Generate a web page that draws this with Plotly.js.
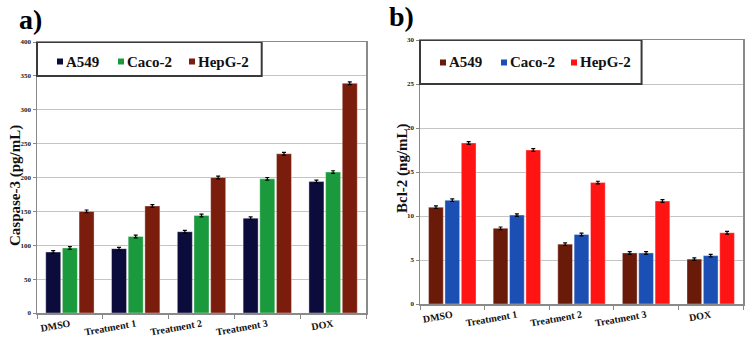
<!DOCTYPE html>
<html>
<head>
<meta charset="utf-8">
<script src="https://cdn.plot.ly/plotly-3.0.1.min.js"></script>
<style>
  html, body { margin: 0; padding: 0; background: #fff; }
  #chart { width: 749px; height: 343px; }
</style>
</head>
<body>
<div id="chart"></div>
<script>
// Shared categories
const groups = ["DMSO", "Treatment 1", "Treatment 2", "Treatment 3", "DOX"];
const cellLines = ["A549", "Caco-2", "HepG-2"];

// Panel a) Caspase-3 (pg/mL)
const caspA549  = [90, 95, 120, 140, 194];
const caspCaco2 = [96, 113, 144, 198, 208];
const caspHepG2 = [150, 158, 200, 235, 339];
const caspErr   = [2, 2, 2, 2, 2];

// Panel b) Bcl-2 (ng/mL)
const bclA549  = [11.0, 8.6, 6.8, 5.8, 5.1];
const bclCaco2 = [11.8, 10.1, 7.9, 5.8, 5.5];
const bclHepG2 = [18.3, 17.5, 13.8, 11.7, 8.1];
const bclErr   = [0.15, 0.15, 0.15, 0.15, 0.15];

const colorsA = ["#0c0c3c", "#1a9a3c", "#7b1d0c"];
const colorsB = ["#6a1a08", "#1c4fb4", "#ff1414"];

const W = 749, H = 343;
const px = v => v / W;
const py = v => 1 - v / H;
const SERIF = "Liberation Serif, Times New Roman, serif";

function barTrace(name, vals, errs, color, xa, ya) {
  return {
    type: "bar", name: name, x: groups, y: vals,
    xaxis: xa, yaxis: ya, showlegend: false,
    marker: { color: color, line: { color: "rgba(255,255,255,0.6)", width: 0.6 } },
    error_y: { type: "data", array: errs, visible: true, color: "#000", thickness: 1.2, width: 2 }
  };
}

const traces = [
  barTrace(cellLines[0], caspA549,  caspErr, colorsA[0], "x",  "y"),
  barTrace(cellLines[1], caspCaco2, caspErr, colorsA[1], "x",  "y"),
  barTrace(cellLines[2], caspHepG2, caspErr, colorsA[2], "x",  "y"),
  barTrace(cellLines[0], bclA549,  bclErr, colorsB[0], "x2", "y2"),
  barTrace(cellLines[1], bclCaco2, bclErr, colorsB[1], "x2", "y2"),
  barTrace(cellLines[2], bclHepG2, bclErr, colorsB[2], "x2", "y2")
];

function xAxis(domain, anchor) {
  return {
    domain: domain, anchor: anchor, type: "category",
    tickson: "boundaries", ticks: "outside", ticklen: 4, tickcolor: "#888",
    tickangle: -10,
    tickfont: { family: SERIF, size: 10, weight: "bold", color: "#111" },
    showline: true, linecolor: "#8a8a8a", linewidth: 1.5, mirror: true,
    showgrid: false, fixedrange: true
  };
}
function yAxis(domain, anchor, range, dtick) {
  return {
    domain: domain, anchor: anchor, range: range, dtick: dtick,
    ticks: "outside", ticklen: 3, tickcolor: "#888",
    tickfont: { family: SERIF, size: 7, weight: "bold", color: "#222" },
    showline: true, linecolor: "#8a8a8a", linewidth: 1.5, mirror: true,
    showgrid: true, gridcolor: "#c4c4c4", gridwidth: 1,
    zeroline: false, fixedrange: true
  };
}

// Legend-style boxes and colour keys
const shapes = [
  { type: "rect", xref: "x domain", yref: "y", x0: 0, x1: 0.683, y0: 350, y1: 400,
    line: { color: "#3a3a3a", width: 2 }, fillcolor: "rgba(255,255,255,0)" },
  { type: "rect", xref: "x2 domain", yref: "y2", x0: 0, x1: 0.686, y0: 25, y1: 30,
    line: { color: "#3a3a3a", width: 2 }, fillcolor: "rgba(255,255,255,0)" }
];
const annotations = [];

function keyEntry(cx, cy, color, label) {
  shapes.push({
    type: "rect", xref: "paper", yref: "paper",
    xsizemode: "pixel", ysizemode: "pixel",
    xanchor: px(cx), yanchor: py(cy),
    x0: -3, x1: 3, y0: -3, y1: 3,
    fillcolor: color, line: { width: 0 }
  });
  annotations.push({
    xref: "paper", yref: "paper", x: px(cx + 4), y: py(cy),
    xanchor: "left", yanchor: "middle", showarrow: false,
    text: label, font: { family: SERIF, size: 15, weight: "bold", color: "#111" }
  });
}
const keyXA = [60, 121, 192];
const keyXB = [443, 504, 574];
cellLines.forEach((n, i) => keyEntry(keyXA[i], 61.5, colorsA[i], n));
cellLines.forEach((n, i) => keyEntry(keyXB[i], 62.5, colorsB[i], n));

// Panel letters and axis titles
annotations.push(
  { xref: "paper", yref: "paper", x: px(17), y: py(20), xanchor: "left", yanchor: "middle",
    showarrow: false, text: "a)", font: { family: SERIF, size: 28, weight: "bold", color: "#000" } },
  { xref: "paper", yref: "paper", x: px(387), y: py(16), xanchor: "left", yanchor: "middle",
    showarrow: false, text: "b)", font: { family: SERIF, size: 28, weight: "bold", color: "#000" } },
  { xref: "paper", yref: "paper", x: px(15), y: py(186), xanchor: "center", yanchor: "middle",
    textangle: -90, showarrow: false, text: "Caspase-3 (pg/mL)",
    font: { family: SERIF, size: 15, weight: "bold", color: "#111" } },
  { xref: "paper", yref: "paper", x: px(402), y: py(168), xanchor: "center", yanchor: "middle",
    textangle: -90, showarrow: false, text: "Bcl-2 (ng/mL)",
    font: { family: SERIF, size: 15, weight: "bold", color: "#111" } }
);

const layout = {
  width: W, height: H,
  margin: { l: 0, r: 0, t: 0, b: 0 },
  paper_bgcolor: "#fff", plot_bgcolor: "#fff",
  barmode: "group", bargap: 0.24, bargroupgap: 0.1,
  showlegend: false,
  xaxis: xAxis([px(37), px(366)], "y"),
  yaxis: yAxis([py(313), py(42)], "x", [0, 400], 50),
  xaxis2: xAxis([px(420), px(743)], "y2"),
  yaxis2: yAxis([py(304), py(40)], "x2", [0, 30], 5),
  shapes: shapes,
  annotations: annotations
};

Plotly.newPlot("chart", traces, layout, { staticPlot: true, displayModeBar: false });
</script>
</body>
</html>
